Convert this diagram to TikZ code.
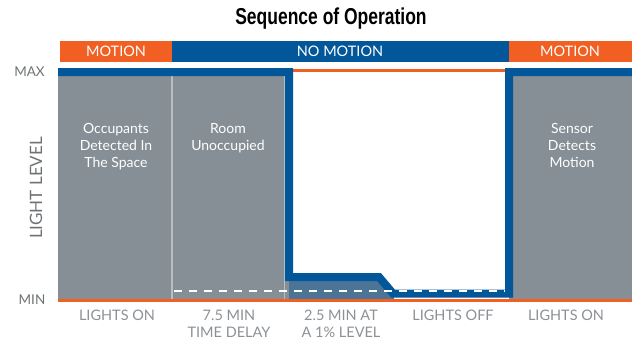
\documentclass[tikz,border=0pt]{standalone}
\usepackage{fontspec}
\setmainfont{Lato}
\newfontfamily\titlefont{Liberation Sans}
\definecolor{ored}{HTML}{F15F22}
\definecolor{bblue}{HTML}{02569A}
\definecolor{ggray}{HTML}{868F95}
\definecolor{lgray}{HTML}{B9BEC1}
\definecolor{tgray}{HTML}{8C9196}
\definecolor{mgray}{HTML}{6E7275}
\definecolor{bgray}{HTML}{4C7496}
\tikzset{
  hdr/.style={text=white,font=\fontsize{14.5}{16}\selectfont,inner sep=0pt},
  coltext/.style={text=white,align=center,font=\fontsize{14}{17}\selectfont,inner sep=0pt,anchor=north},
  bottext/.style={text=tgray,align=center,font=\fontsize{14.5}{17}\selectfont,inner sep=0pt,anchor=north},
  axtext/.style={text=mgray,font=\fontsize{13.5}{16}\selectfont,inner sep=0pt},
}
\begin{document}
\begin{tikzpicture}[x=1pt,y=-1pt]
\useasboundingbox (0,0) rectangle (632,341);
% title
\node[inner sep=0pt] (title) at (331,18.5) {\titlefont\bfseries\fontsize{23}{25}\selectfont\scalebox{0.76}[1]{Sequence of Operation}};
% header bars
\fill[ored] (60,41) rectangle (172,62);
\fill[bblue] (172,41) rectangle (509,62);
\fill[ored] (509,41) rectangle (632,62);
\node[hdr] (m1) at (116,51.5) {MOTION};
\node[hdr] (nm) at (340,51.5) {NO MOTION};
\node[hdr] (m2) at (570,51.5) {MOTION};
% gray areas
\fill[ggray] (58,72) rectangle (289,300);
\fill[ggray] (509,72) rectangle (632,300);
\fill[bgray] (289,277) -- (380,277) -- (394,293.5) -- (394,300) -- (289,300) -- cycle;
% dividers
\draw[lgray,line width=1.6pt] (172,76) -- (172,300);
\draw[lgray,line width=1.2pt] (284.5,76) -- (284.5,300);
\draw[mgray!80,line width=1.5pt] (58.5,72) -- (58.5,300);
% orange lines
\draw[ored,line width=2.5pt] (293,70.5) -- (505,70.5);
\draw[ored,line width=2.8pt] (58,300.5) -- (632,300.5);
% blue light level line
\draw[bblue,line width=8pt,line join=miter] (58,72) -- (289,72) -- (289,277) -- (379,277) -- (393,293.5) -- (509,293.5) -- (509,72) -- (632,72);
% dashed line
\draw[white,line width=2.5pt,dash pattern=on 8pt off 7pt] (174,291) -- (505,291);
% column texts
\node[coltext] (t1) at (116,123) {Occupants\\Detected In\\The Space};
\node[coltext] (t2) at (228,123) {Room\\Unoccupied};
\node[coltext] (t3) at (572,123) {Sensor\\Detects\\Motion};
% bottom labels
\node[bottext] (b1) at (117,309.5) {LIGHTS ON};
\node[bottext] (b2) at (229,309.5) {7.5 MIN\\TIME DELAY};
\node[bottext] (b3) at (341,309.5) {2.5 MIN AT\\A 1\% LEVEL};
\node[bottext] (b4) at (453,309.5) {LIGHTS OFF};
\node[bottext] (b5) at (566,309.5) {LIGHTS ON};
% axis labels
\node[axtext] (max) at (29.5,72) {MAX};
\node[axtext] (min) at (32,299.5) {MIN};
\node[axtext,rotate=90,font=\fontsize{17}{20}\selectfont] (ll) at (36,188) {LIGHT LEVEL};
\end{tikzpicture}
\end{document}
